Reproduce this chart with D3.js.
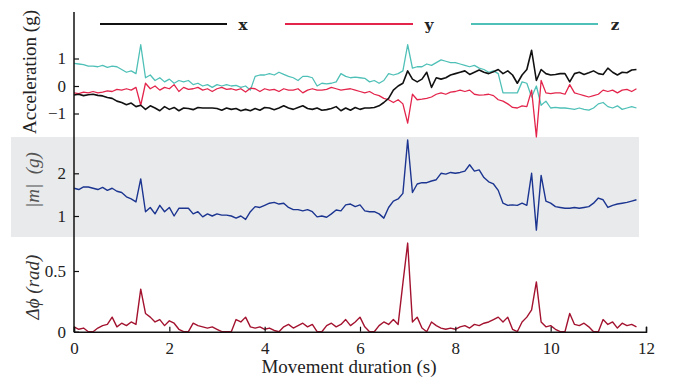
<!DOCTYPE html>
<html>
<head>
<meta charset="utf-8">
<script src="https://cdn.jsdelivr.net/npm/d3@7"></script>
<style>
  body { margin: 0; background: #fff; }
  svg { display: block; }
</style>
</head>
<body>
<svg id="chart" width="678" height="379"></svg>
<script>
// sampling step of the recordings (s)
const dt = 0.1;

// acceleration components (g), one value every 0.1 s from 0 to 11.8 s
const accX = [
  -0.33, -0.30, -0.35, -0.32, -0.30, -0.34, -0.36, -0.42, -0.45, -0.55,
  -0.60, -0.68, -0.62, -0.75, -0.70, -0.85, -0.72, -0.80, -0.90, -0.75,
  -0.85, -0.78, -0.90, -0.80, -0.82, -0.86, -0.78, -0.80, -0.80, -0.80,
  -0.82, -0.88, -0.80, -0.85, -0.82, -0.90, -0.85, -0.90, -0.82, -0.88,
  -0.78, -0.80, -0.86, -0.80, -0.72, -0.80, -0.85, -0.78, -0.72, -0.82,
  -0.85, -0.80, -0.88, -0.86, -0.82, -0.75, -0.90, -0.80, -0.88, -0.78,
  -0.85, -0.80, -0.80, -0.78, -0.72, -0.60, -0.45, -0.15, 0.00, 0.10,
  0.55, 0.25, 0.15, 0.25, 0.50, -0.05, 0.30, 0.25, 0.30, 0.40,
  0.45, 0.50, 0.55, 0.42, 0.50, 0.58, 0.50, 0.45, 0.52, 0.60,
  0.45, 0.55, 0.40, 0.10, 0.40, 0.60, 1.30, 0.20, 0.60, 0.45,
  0.40, 0.42, 0.45, 0.45, 0.15, 0.45, 0.50, 0.42, 0.48, 0.55,
  0.45, 0.42, 0.65, 0.50, 0.40, 0.50, 0.48, 0.58, 0.60
];
const accY = [
  -0.25, -0.28, -0.22, -0.25, -0.20, -0.25, -0.22, -0.18, -0.20, -0.12,
  -0.15, -0.10, -0.15, -0.05, -0.70, 0.10, -0.10, 0.00, -0.15, -0.05,
  -0.10, 0.05, -0.20, -0.05, -0.12, -0.10, -0.05, -0.15, -0.10, -0.20,
  -0.10, -0.05, -0.12, -0.10, -0.15, -0.10, -0.22, -0.08, -0.10, -0.20,
  -0.10, -0.15, -0.12, -0.20, -0.10, -0.15, -0.15, -0.10, -0.25, -0.15,
  -0.10, -0.15, -0.15, -0.12, -0.05, -0.10, -0.15, -0.12, -0.10, -0.15,
  -0.20, -0.25, -0.20, -0.30, -0.35, -0.45, -0.50, -0.60, -0.50, -0.65,
  -1.35, -0.30, -0.50, -0.48, -0.45, -0.40, -0.30, -0.25, -0.30, -0.22,
  -0.20, -0.15, -0.20, -0.15, -0.30, -0.33, -0.32, -0.30, -0.35, -0.50,
  -0.55, -0.65, -0.78, -0.80, -0.72, -0.75, -0.15, -1.85, 0.20, -0.25,
  -0.28, -0.25, -0.25, -0.30, 0.05, -0.25, -0.30, -0.35, -0.40, -0.35,
  -0.30, -0.15, -0.20, -0.15, -0.25, -0.15, -0.12, -0.20, -0.10
];
const accZ = [
  0.82, 0.80, 0.78, 0.72, 0.72, 0.70, 0.75, 0.68, 0.72, 0.70,
  0.60, 0.50, 0.55, 0.45, 1.50, 0.30, 0.40, 0.20, 0.30, 0.15,
  0.25, 0.10, 0.20, 0.15, 0.20, 0.05, 0.10, 0.00, 0.05, -0.05,
  0.05, 0.00, 0.05, 0.00, 0.02, -0.05, 0.00, -0.15, 0.35, 0.40,
  0.40, 0.45, 0.40, 0.50, 0.42, 0.35, 0.30, 0.20, 0.35, 0.35,
  0.30, 0.00, 0.10, 0.08, 0.10, 0.15, 0.45, 0.35, 0.30, 0.32,
  0.30, 0.28, 0.15, 0.20, 0.10, 0.20, 0.45, 0.40, 0.45, 0.55,
  1.50, 0.65, 0.70, 0.70, 0.80, 0.75, 0.85, 0.95, 0.90, 0.85,
  0.85, 0.80, 0.75, 0.70, 0.75, 0.65, 0.60, 0.50, 0.55, 0.45,
  -0.25, -0.25, -0.25, -0.25, 0.15, 0.10, -0.40, 0.00, -0.70, -0.55,
  -0.80, -0.78, -0.80, -0.80, -0.82, -0.85, -0.80, -0.85, -0.88, -0.80,
  -0.65, -0.60, -0.75, -0.80, -0.72, -0.85, -0.80, -0.75, -0.80
];

// magnitude |m| (g)
const magnitude = [
  1.65, 1.62, 1.68, 1.68, 1.65, 1.62, 1.67, 1.60, 1.65, 1.58,
  1.55, 1.45, 1.40, 1.33, 1.87, 1.10, 1.20, 1.05, 1.25, 1.10,
  1.20, 1.00, 1.18, 1.18, 1.18, 1.05, 1.10, 0.98, 1.05, 1.00,
  1.05, 1.02, 1.02, 1.00, 0.95, 1.00, 0.92, 1.10, 1.22, 1.20,
  1.25, 1.30, 1.32, 1.28, 1.30, 1.20, 1.15, 1.15, 1.12, 1.15,
  1.10, 0.98, 1.00, 0.97, 1.05, 1.14, 1.12, 1.26, 1.28, 1.22,
  1.26, 1.12, 1.10, 1.10, 1.05, 0.95, 1.20, 1.35, 1.40, 1.53,
  2.78, 1.55, 1.75, 1.78, 1.78, 1.82, 1.85, 2.00, 1.98, 2.02,
  2.00, 2.02, 2.05, 2.20, 2.05, 2.08, 1.90, 1.80, 1.75, 1.60,
  1.30, 1.25, 1.26, 1.25, 1.30, 1.25, 2.00, 0.67, 1.95, 1.35,
  1.30, 1.22, 1.20, 1.18, 1.18, 1.20, 1.18, 1.20, 1.22, 1.30,
  1.42, 1.38, 1.20, 1.25, 1.28, 1.30, 1.32, 1.35, 1.38
];

// orientation change (rad)
const dPhi = [
  0.04, 0.02, 0.03, 0.00, 0.00, 0.03, 0.05, 0.06, 0.12, 0.04,
  0.07, 0.05, 0.08, 0.06, 0.35, 0.15, 0.12, 0.08, 0.10, 0.05,
  0.09, 0.07, 0.02, 0.00, 0.00, 0.07, 0.05, 0.04, 0.03, 0.04,
  0.02, 0.00, 0.00, 0.00, 0.10, 0.08, 0.12, 0.04, 0.03, 0.04,
  0.02, 0.03, 0.01, 0.00, 0.04, 0.06, 0.03, 0.05, 0.07, 0.04,
  0.06, 0.00, 0.00, 0.05, 0.07, 0.04, 0.06, 0.10, 0.05, 0.08,
  0.12, 0.04, 0.00, 0.00, 0.05, 0.08, 0.06, 0.10, 0.06, 0.40,
  0.73, 0.08, 0.12, 0.03, 0.00, 0.08, 0.05, 0.03, 0.02, 0.03,
  0.02, 0.04, 0.05, 0.03, 0.06, 0.05, 0.07, 0.08, 0.10, 0.12,
  0.08, 0.12, 0.02, 0.00, 0.08, 0.12, 0.18, 0.41, 0.08, 0.04,
  0.05, 0.02, 0.00, 0.00, 0.15, 0.06, 0.05, 0.07, 0.04, 0.00,
  0.00, 0.10, 0.06, 0.08, 0.03, 0.07, 0.05, 0.06, 0.04
];

const timeTicks = [0, 2, 4, 6, 8, 10, 12];
const accTicks = [-1, 0, 1];
const magTicks = [1, 2];
const phiTicks = [0, 0.5];

const series = [
  { name: 'x', values: accX, color: '#111111' },
  { name: 'y', values: accY, color: '#e3244b' },
  { name: 'z', values: accZ, color: '#4fc0b7' }
];

const svg = d3.select('#chart');
const serif = '"Liberation Serif", "Times New Roman", serif';

const x = d3.scaleLinear().domain([0, 12]).range([74, 646]);
const yAcc = d3.scaleLinear().domain([-1, 1]).range([113.5, 58.5]);
const yMag = d3.scaleLinear().domain([1, 2]).range([216, 173.3]);
const yPhi = d3.scaleLinear().domain([0, 0.5]).range([331.7, 271]);

// grey band behind the magnitude panel
svg.append('rect')
  .attr('x', 11).attr('y', 137)
  .attr('width', 628).attr('height', 100)
  .attr('fill', '#e9eaec');

function drawLine(values, yScale, color, width) {
  const line = d3.line()
    .x((d, i) => x(i * dt))
    .y(d => yScale(d));
  svg.append('path')
    .datum(values)
    .attr('d', line)
    .attr('fill', 'none')
    .attr('stroke', color)
    .attr('stroke-width', width)
    .attr('stroke-linejoin', 'round');
}

// draw z, y, then x so the black trace sits on top
drawLine(accZ, yAcc, series[2].color, 1.3);
drawLine(accY, yAcc, series[1].color, 1.3);
drawLine(accX, yAcc, series[0].color, 1.6);
drawLine(magnitude, yMag, '#1b3590', 1.4);
drawLine(dPhi, yPhi, '#a3132f', 1.4);

// shared vertical axis line
svg.append('line')
  .attr('x1', 74).attr('x2', 74)
  .attr('y1', 12).attr('y2', 332)
  .attr('stroke', '#111').attr('stroke-width', 1.5);

function yTicks(scale, ticks, fmt) {
  const g = svg.append('g')
    .attr('transform', 'translate(74,0)')
    .call(d3.axisRight(scale).tickValues(ticks).tickSize(5).tickFormat(fmt))
    .attr('font-family', serif)
    .attr('font-size', 17);
  g.select('.domain').remove();
  g.selectAll('line').attr('stroke', '#111').attr('stroke-width', 1.2);
  g.selectAll('text')
    .attr('x', -8)
    .attr('text-anchor', 'end')
    .attr('fill', '#222');
}
yTicks(yAcc, accTicks, d3.format('d'));
yTicks(yMag, magTicks, d3.format('d'));
yTicks(yPhi, phiTicks, d => d === 0 ? '0' : String(d));

// time axis
const xg = svg.append('g')
  .attr('transform', 'translate(0,331.7)')
  .call(d3.axisBottom(x).tickValues(timeTicks).tickSize(-5).tickPadding(10))
  .attr('font-family', serif)
  .attr('font-size', 17);
xg.select('.domain').attr('stroke', '#111').attr('stroke-width', 1.5);
xg.selectAll('line').attr('stroke', '#111').attr('stroke-width', 1.2);
xg.selectAll('text').attr('fill', '#222');

// axis titles
svg.append('text')
  .attr('x', 349).attr('y', 373)
  .attr('text-anchor', 'middle')
  .attr('font-family', serif).attr('font-size', 19)
  .attr('fill', '#222')
  .text('Movement duration (s)');

svg.append('text')
  .attr('transform', 'translate(36,72) rotate(-90)')
  .attr('text-anchor', 'middle')
  .attr('font-family', serif).attr('font-size', 19)
  .attr('fill', '#222')
  .text('Acceleration (g)');

svg.append('text')
  .attr('transform', 'translate(39,180) rotate(-90)')
  .attr('text-anchor', 'middle')
  .attr('font-family', serif).attr('font-size', 19)
  .attr('font-style', 'italic')
  .attr('fill', '#555')
  .attr('xml:space', 'preserve')
  .text('|m|  (g)');

svg.append('text')
  .attr('transform', 'translate(39,287) rotate(-90)')
  .attr('text-anchor', 'middle')
  .attr('font-family', serif).attr('font-size', 19)
  .attr('font-style', 'italic')
  .attr('fill', '#333')
  .text('Δϕ (rad)');

// legend
const legendPos = [
  { x1: 100, x2: 227, tx: 243 },
  { x1: 285, x2: 413, tx: 429 },
  { x1: 471, x2: 598, tx: 615 }
];
series.forEach((s, i) => {
  const p = legendPos[i];
  svg.append('line')
    .attr('x1', p.x1).attr('x2', p.x2)
    .attr('y1', 24).attr('y2', 24)
    .attr('stroke', s.color).attr('stroke-width', 1.8);
  svg.append('text')
    .attr('x', p.tx).attr('y', 30)
    .attr('text-anchor', 'middle')
    .attr('font-family', '"DejaVu Serif", serif')
    .attr('font-weight', 'bold')
    .attr('font-size', 15)
    .attr('fill', '#222')
    .text(s.name);
});
</script>
</body>
</html>
